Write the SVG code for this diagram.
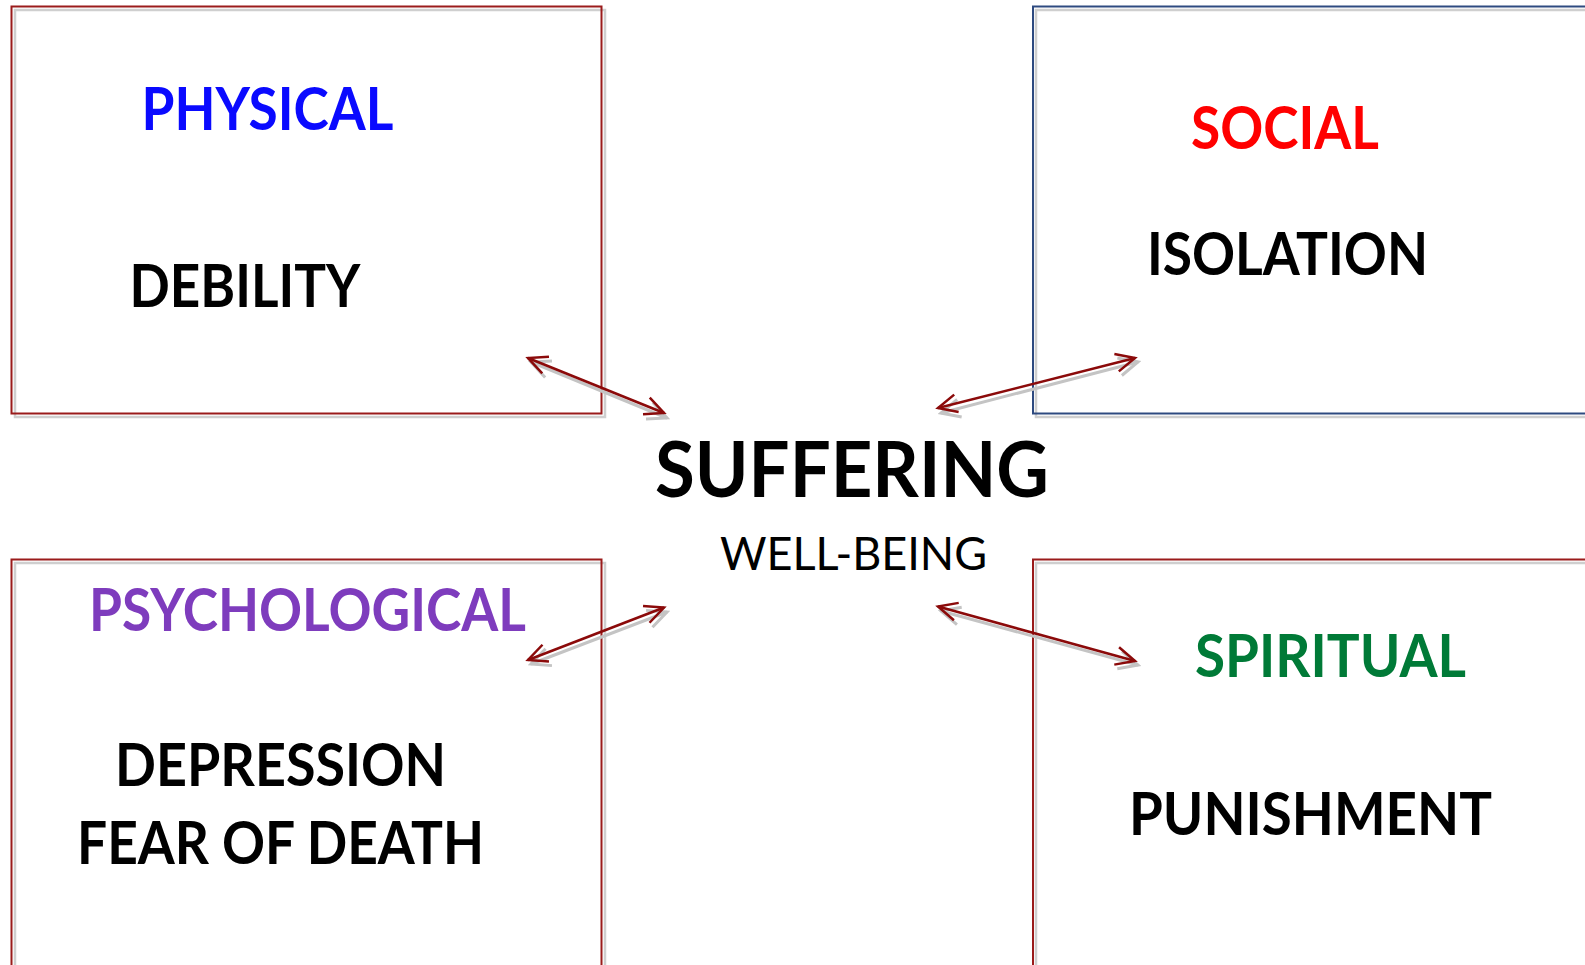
<svg xmlns="http://www.w3.org/2000/svg" width="1585" height="965" viewBox="0 0 1585 965">
<style>
.box{fill:none;stroke:#9a1b1b;stroke-width:2}
.boxb{fill:none;stroke:#2e4a80;stroke-width:2}
.shadow{fill:none;stroke:#cfcfcf;stroke-width:2.5}
.t{font-family:Lato,"Open Sans","Liberation Sans",sans-serif;font-weight:bold;font-size:60px}
.big{font-family:Lato,"Open Sans","Liberation Sans",sans-serif;font-weight:bold;font-size:77px;fill:#000}
.sub{font-family:Lato,"Open Sans","Liberation Sans",sans-serif;font-weight:normal;font-size:47px;fill:#000}
.conn{stroke:#8b0a0a;stroke-width:2.5;fill:none}
.connsh{stroke:#c4c4c4;stroke-width:3;fill:none}
</style>
<defs>
<marker id="ah" viewBox="0 0 24 24" refX="21" refY="12" markerWidth="24" markerHeight="24" markerUnits="userSpaceOnUse" orient="auto-start-reverse">
<path d="M2,3 L21,12 L2,21" fill="none" stroke="#8b0a0a" stroke-width="2.5"/>
</marker>
<marker id="ahs" viewBox="0 0 24 24" refX="21" refY="12" markerWidth="24" markerHeight="24" markerUnits="userSpaceOnUse" orient="auto-start-reverse">
<path d="M2,3 L21,12 L2,21" fill="none" stroke="#c4c4c4" stroke-width="3"/>
</marker>
</defs>
<rect width="1585" height="965" fill="#fff"/>

<g id="physical">
<rect class="shadow" x="15" y="10" width="590" height="407"/>
<rect class="box" x="11.5" y="6.5" width="590" height="407"/>
<text class="t" x="141.5" y="130" fill="#0a0aff" textLength="252" lengthAdjust="spacingAndGlyphs">PHYSICAL</text>
<text class="t" x="129.5" y="307" fill="#000" textLength="231" lengthAdjust="spacingAndGlyphs">DEBILITY</text>
</g>

<g id="social">
<rect class="shadow" x="1036" y="10" width="600" height="407"/>
<rect class="boxb" x="1033" y="6.5" width="600" height="407"/>
<text class="t" x="1191" y="148.5" fill="#ff0000" textLength="188" lengthAdjust="spacingAndGlyphs">SOCIAL</text>
<text class="t" x="1147" y="275" fill="#000" textLength="281" lengthAdjust="spacingAndGlyphs">ISOLATION</text>
</g>

<g id="psychological">
<rect class="shadow" x="15" y="563" width="590" height="450"/>
<rect class="box" x="11.5" y="559.5" width="590" height="450"/>
<text class="t" x="89" y="631" fill="#7e3cbd" textLength="437" lengthAdjust="spacingAndGlyphs">PSYCHOLOGICAL</text>
<text class="t" x="115" y="786" fill="#000" textLength="331" lengthAdjust="spacingAndGlyphs">DEPRESSION</text>
<text class="t" x="77" y="864" fill="#000" textLength="407" lengthAdjust="spacingAndGlyphs">FEAR OF DEATH</text>
</g>

<g id="spiritual">
<rect class="shadow" x="1036" y="563" width="600" height="450"/>
<rect class="box" x="1033" y="559.5" width="600" height="450"/>
<text class="t" x="1195" y="677" fill="#007a37" textLength="271" lengthAdjust="spacingAndGlyphs">SPIRITUAL</text>
<text class="t" x="1129" y="835" fill="#000" textLength="363" lengthAdjust="spacingAndGlyphs">PUNISHMENT</text>
</g>

<g id="suffering">
<text class="big" x="655" y="497" textLength="394" lengthAdjust="spacingAndGlyphs">SUFFERING</text>
<text class="sub" x="720" y="570" textLength="267" lengthAdjust="spacingAndGlyphs">WELL-BEING</text>
</g>

<g id="connectors">
<line class="connsh" x1="531" y1="362" x2="667" y2="418" marker-start="url(#ahs)" marker-end="url(#ahs)"/>
<line class="connsh" x1="941" y1="413" x2="1138" y2="362" marker-start="url(#ahs)" marker-end="url(#ahs)"/>
<line class="connsh" x1="531" y1="664" x2="667" y2="612" marker-start="url(#ahs)" marker-end="url(#ahs)"/>
<line class="connsh" x1="941" y1="611" x2="1138" y2="665" marker-start="url(#ahs)" marker-end="url(#ahs)"/>
<line class="conn" x1="528" y1="358" x2="664" y2="413" marker-start="url(#ah)" marker-end="url(#ah)"/>
<line class="conn" x1="938" y1="408" x2="1135" y2="358" marker-start="url(#ah)" marker-end="url(#ah)"/>
<line class="conn" x1="528" y1="660" x2="664" y2="607.5" marker-start="url(#ah)" marker-end="url(#ah)"/>
<line class="conn" x1="938" y1="606.5" x2="1135" y2="661" marker-start="url(#ah)" marker-end="url(#ah)"/>
</g>
</svg>
